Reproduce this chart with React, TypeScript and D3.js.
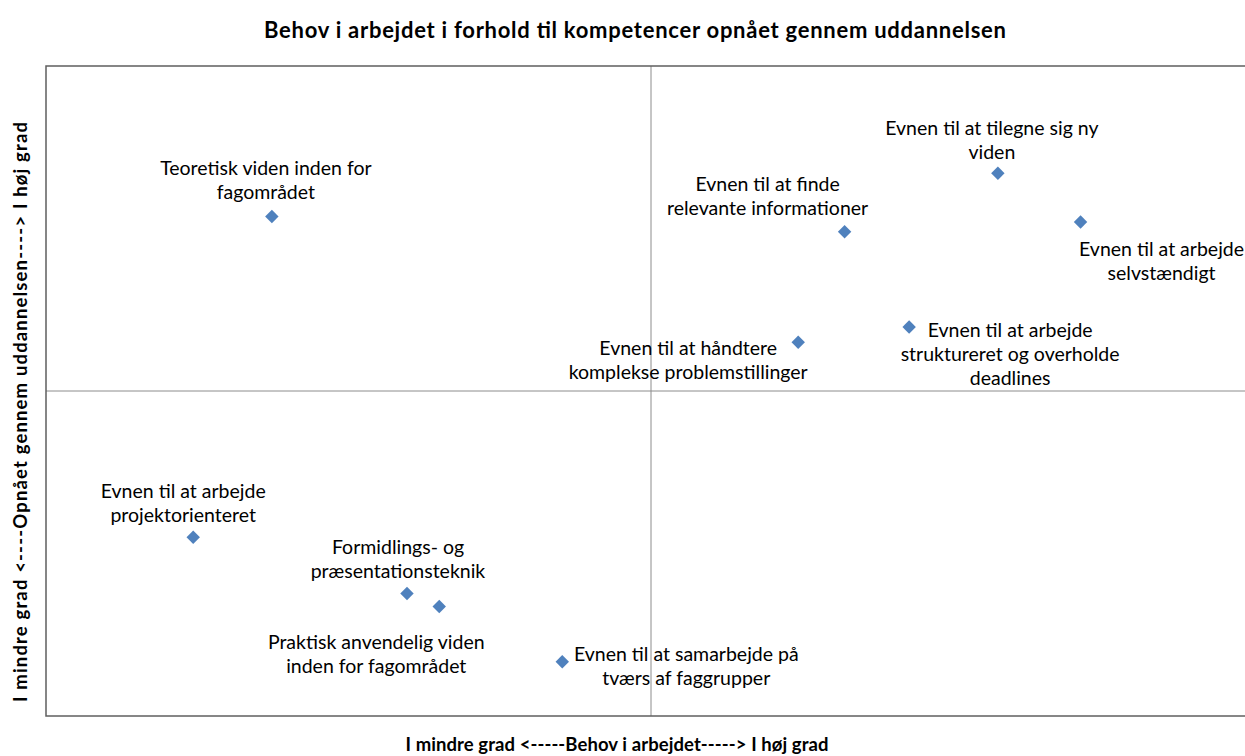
import React, { useRef, useEffect } from 'react';
import * as d3 from 'd3';

// competences, "\n" marks the line break of the data label
const competences = [
  'Teoretisk viden inden for\nfagområdet',
  'Evnen til at tilegne sig ny\nviden',
  'Evnen til at finde\nrelevante informationer',
  'Evnen til at arbejde\nselvstændigt',
  'Evnen til at håndtere\nkomplekse problemstillinger',
  'Evnen til at arbejde\nstruktureret og overholde\ndeadlines',
  'Evnen til at arbejde\nprojektorienteret',
  'Formidlings- og\npræsentationsteknik',
  'Praktisk anvendelig viden\ninden for fagområdet',
  'Evnen til at samarbejde på\ntværs af faggrupper',
];
// behov i arbejdet (x)
const behov = [-1.88, 1.72, 0.96, 2.13, 0.73, 1.28, -2.27, -1.21, -1.05, -0.44];
// opnået gennem uddannelsen (y)
const opnaaet = [1.61, 2.01, 1.47, 1.56, 0.45, 0.59, -1.35, -1.87, -1.99, -2.5];

const title = 'Behov i arbejdet i forhold til kompetencer opnået gennem uddannelsen';
const xTitle = 'I mindre grad <-----Behov i arbejdet-----> I høj grad';
const yTitle = 'I mindre grad <----Opnået gennem uddannelsen----> I høj grad';

// where each label sits relative to its marker (centre x, first line y)
const labelOffsets = [
  [-6, -49], [-6, -46], [-77, -48], [81, 26], [-110, 5],
  [101, 2], [-10, -47], [-9, -47], [-63, 35], [124, -8],
];

const W = 1245;
const H = 756;
const FONT = 'Lato, "Open Sans", sans-serif';

const App = () => {
  const svgRef = useRef<SVGSVGElement>(null);

  useEffect(() => {
    const svg = d3.select(svgRef.current);
    svg.selectAll('*').remove();

    const plot = { left: 46, right: 1256, top: 66, bottom: 716 };

    const x = d3.scaleLinear().domain([-3, 3]).range([plot.left, plot.right]);
    const y = d3.scaleLinear().domain([-3, 3]).range([plot.bottom, plot.top]);

    svg.append('rect')
      .attr('width', W)
      .attr('height', H)
      .attr('fill', '#ffffff');

    // quadrant lines
    svg.append('line')
      .attr('x1', x(0)).attr('x2', x(0))
      .attr('y1', plot.top).attr('y2', plot.bottom)
      .attr('stroke', '#8c8c8c')
      .attr('stroke-width', 1);
    svg.append('line')
      .attr('x1', plot.left).attr('x2', plot.right)
      .attr('y1', y(0)).attr('y2', y(0))
      .attr('stroke', '#8c8c8c')
      .attr('stroke-width', 1);

    svg.append('rect')
      .attr('x', plot.left)
      .attr('y', plot.top)
      .attr('width', plot.right - plot.left)
      .attr('height', plot.bottom - plot.top)
      .attr('fill', 'none')
      .attr('stroke', '#5f5f5f')
      .attr('stroke-width', 1.5);

    const diamond = d3.symbol().type(d3.symbolDiamond2).size(115);

    const g = svg.append('g');
    competences.forEach((name, i) => {
      const px = x(behov[i]);
      const py = y(opnaaet[i]);

      const lines = name.split('\n');
      const [dx, dy] = labelOffsets[i];
      const t = g.append('text')
        .attr('font-family', FONT)
        .attr('font-size', '19.5px')
        .attr('fill', '#000000')
        .attr('text-anchor', 'middle');
      lines.forEach((line, k) => {
        t.append('tspan')
          .attr('x', px + dx)
          .attr('y', py + dy + k * 24)
          .attr('dominant-baseline', 'central')
          .text(line);
      });

      g.append('path')
        .attr('d', diamond())
        .attr('transform', `translate(${px},${py})`)
        .attr('fill', '#4f81bd');
    });

    svg.append('text')
      .attr('x', 635)
      .attr('y', 29)
      .attr('text-anchor', 'middle')
      .attr('dominant-baseline', 'central')
      .attr('font-family', FONT)
      .attr('font-weight', 'bold')
      .attr('font-size', '22px')
      .attr('textLength', 742)
      .attr('lengthAdjust', 'spacing')
      .text(title);

    svg.append('text')
      .attr('x', 617)
      .attr('y', 744)
      .attr('text-anchor', 'middle')
      .attr('dominant-baseline', 'central')
      .attr('font-family', FONT)
      .attr('font-weight', 'bold')
      .attr('font-size', '18.5px')
      .attr('textLength', 423)
      .attr('lengthAdjust', 'spacing')
      .text(xTitle);

    svg.append('text')
      .attr('transform', `translate(20,${412}) rotate(-90)`)
      .attr('text-anchor', 'middle')
      .attr('dominant-baseline', 'central')
      .attr('font-family', FONT)
      .attr('font-weight', 'bold')
      .attr('font-size', '18.5px')
      .attr('textLength', 580)
      .attr('lengthAdjust', 'spacing')
      .text(yTitle);
  }, []);

  return (
    <div>
      <svg
        ref={svgRef}
        width={W}
        height={H}
        style={{ position: 'absolute', left: 0, top: 0, display: 'block' }}
      ></svg>
    </div>
  );
};

export default App;
